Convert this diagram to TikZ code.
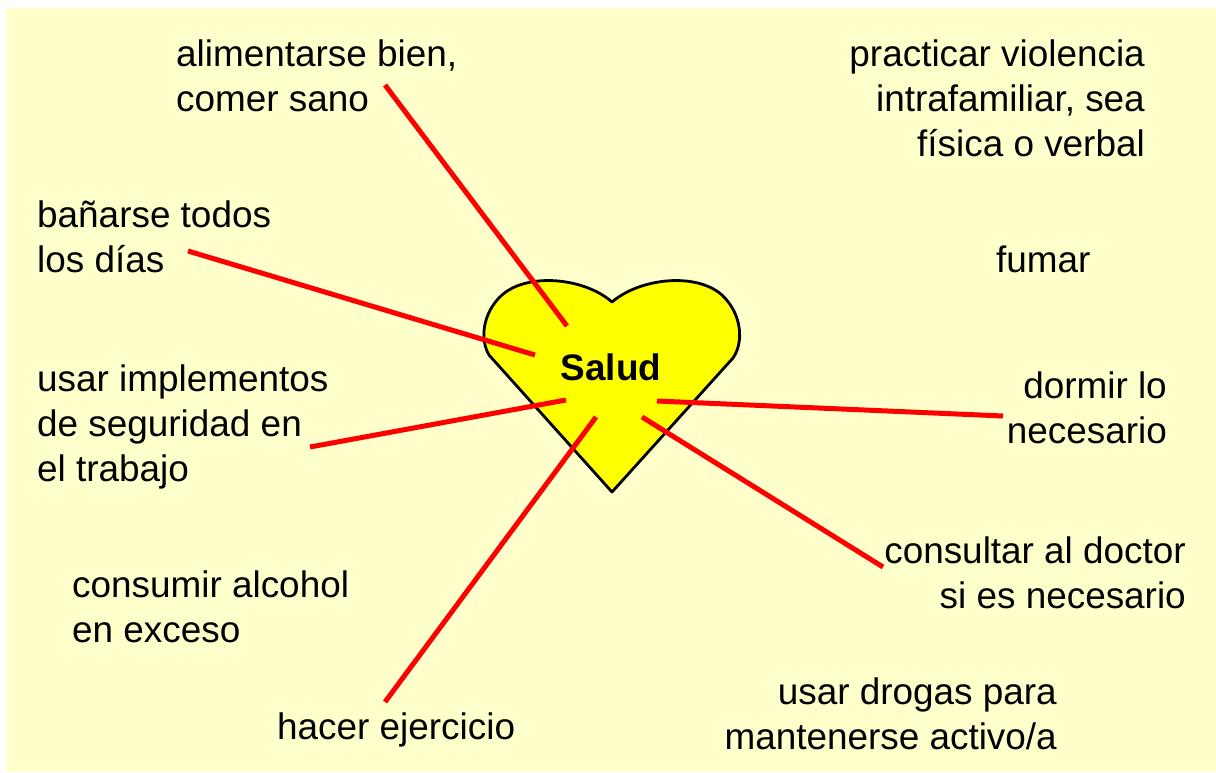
\documentclass[tikz,border=0pt]{standalone}
\usepackage{fontspec}
\setmainfont{Liberation Sans}
\definecolor{bgyellow}{HTML}{FFFFCC}
\definecolor{heartyellow}{HTML}{FFFF00}
\begin{document}
\begin{tikzpicture}[x=1pt,y=-1pt,
  lbl/.style={inner sep=0pt, font=\fontsize{36.9}{44}\selectfont},
  lw/.style={lbl, anchor=base west},
  le/.style={lbl, anchor=base east},
  link/.style={draw=red, line width=5pt},
  heartshape/.style={fill=heartyellow, draw=black, line width=2.8pt, line join=round}]
\useasboundingbox (0,0) rectangle (1216,772);
\fill[white] (0,0) rectangle (1216,772);
\fill[bgyellow] (6,8) rectangle (1216,772);

% heart
\path[heartshape] (612,302) .. controls (585,278) and (528,272) .. (502,295)
  .. controls (482,313) and (480,340) .. (489,355) -- (612,492) -- (733,358)
  .. controls (744,342) and (742,314) .. (722,295)
  .. controls (696,272) and (640,278) .. (612,302) -- cycle;
\node[lbl, font=\fontsize{36.9}{44}\selectfont\bfseries, anchor=base] (salud) at (611,380) {Salud};

% labels
\node[lw] (ali1) at (176,66) {alimentarse bien,};
\node[lw] (ali2) at (176,111) {comer sano};
\node[le] (vio1) at (1145,66) {practicar violencia};
\node[le] (vio2) at (1145,111) {intrafamiliar, sea};
\node[le] (vio3) at (1145,156) {física o verbal};
\node[lw] (ban1) at (37,227) {bañarse todos};
\node[lw] (ban2) at (37,272) {los días};
\node[lw] (fum) at (996,272) {fumar};
\node[lw] (imp1) at (37,391) {usar implementos};
\node[lw] (imp2) at (37,436) {de seguridad en};
\node[lw] (imp3) at (37,481) {el trabajo};
\node[le] (dor1) at (1167,398) {dormir lo};
\node[le] (dor2) at (1167,443) {necesario};
\node[le] (con1) at (1186,563) {consultar al doctor};
\node[le] (con2) at (1186,608) {si es necesario};
\node[lw] (alc1) at (72,597) {consumir alcohol};
\node[lw] (alc2) at (72,642) {en exceso};
\node[le] (dro1) at (1057,704) {usar drogas para};
\node[le] (dro2) at (1057,749) {mantenerse activo/a};
\node[lw] (eje) at (277,739) {hacer ejercicio};

% connector end points
\coordinate (aliA) at (385,85);   \coordinate (aliB) at (567,326);
\coordinate (banA) at (188,251);  \coordinate (banB) at (535,355);
\coordinate (impA) at (310,447);  \coordinate (impB) at (566,400);
\coordinate (ejeA) at (385,702);  \coordinate (ejeB) at (596,417);
\coordinate (dorA) at (1003,416); \coordinate (dorB) at (657,401);
\coordinate (conA) at (883,567);  \coordinate (conB) at (642,417);

\draw[link] (aliA) -- (aliB);
\draw[link] (banA) -- (banB);
\draw[link] (impA) -- (impB);
\draw[link] (ejeA) -- (ejeB);
\draw[link] (dorA) -- (dorB);
\draw[link] (conA) -- (conB);
\end{tikzpicture}
\end{document}
